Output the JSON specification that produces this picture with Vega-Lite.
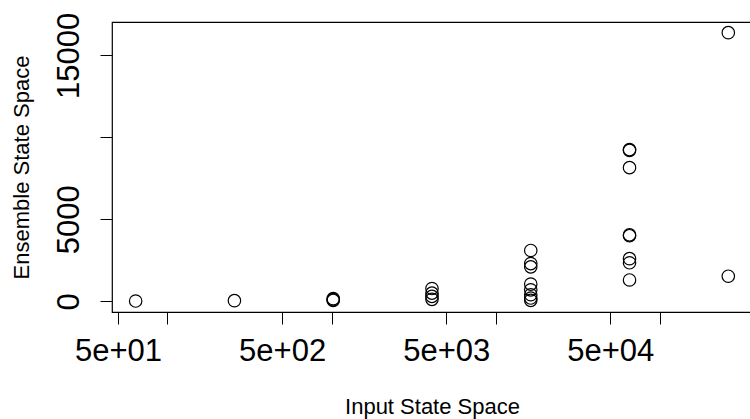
{
  "$schema": "https://vega.github.io/schema/vega-lite/v6.json",
  "width": 640,
  "height": 290,
  "autosize": {"type": "none"},
  "padding": {"left": 112, "top": 22, "right": 0, "bottom": 107},
  "background": "white",
  "config": {
    "view": {"stroke": "black", "strokeWidth": 1.2},
    "font": "Liberation Sans",
    "axis": {
      "grid": false,
      "domain": false,
      "tickColor": "black",
      "tickWidth": 1,
      "tickSize": 12,
      "labelColor": "black",
      "titleColor": "black",
      "labelFont": "Liberation Sans",
      "titleFont": "Liberation Sans",
      "labelFontSize": 31,
      "titleFontSize": 22,
      "titleFontWeight": "normal"
    }
  },
  "data": {
    "values": [
      {"input": 64, "ensemble": 16},
      {"input": 256, "ensemble": 40},
      {"input": 1024, "ensemble": 50},
      {"input": 1024, "ensemble": 100},
      {"input": 1024, "ensemble": 160},
      {"input": 4096, "ensemble": 120},
      {"input": 4096, "ensemble": 300},
      {"input": 4096, "ensemble": 500},
      {"input": 4096, "ensemble": 780},
      {"input": 16384, "ensemble": 60},
      {"input": 16384, "ensemble": 200},
      {"input": 16384, "ensemble": 400},
      {"input": 16384, "ensemble": 700},
      {"input": 16384, "ensemble": 1050},
      {"input": 16384, "ensemble": 2100},
      {"input": 16384, "ensemble": 2300},
      {"input": 16384, "ensemble": 3100},
      {"input": 65536, "ensemble": 1300},
      {"input": 65536, "ensemble": 2350},
      {"input": 65536, "ensemble": 2600},
      {"input": 65536, "ensemble": 4000},
      {"input": 65536, "ensemble": 4050},
      {"input": 65536, "ensemble": 8150},
      {"input": 65536, "ensemble": 9200},
      {"input": 65536, "ensemble": 9250},
      {"input": 262144, "ensemble": 1530},
      {"input": 262144, "ensemble": 16380}
    ]
  },
  "mark": {"type": "point", "shape": "circle", "filled": false, "stroke": "black", "strokeWidth": 1.2, "size": 155, "opacity": 1, "clip": false},
  "encoding": {
    "x": {
      "field": "input",
      "type": "quantitative",
      "title": "Input State Space",
      "scale": {"type": "log", "domain": [45.92, 365600], "nice": false},
      "axis": {
        "values": [50, 100, 500, 1000, 5000, 10000, 50000, 100000],
        "labelExpr": "datum.value == 50 ? '5e+01' : datum.value == 500 ? '5e+02' : datum.value == 5000 ? '5e+03' : datum.value == 50000 ? '5e+04' : ''",
        "labelPadding": 12,
        "labelFlush": false,
        "labelOverlap": false,
        "titlePadding": 30
      }
    },
    "y": {
      "field": "ensemble",
      "type": "quantitative",
      "title": "Ensemble State Space",
      "scale": {"domain": [-652, 17030], "nice": false, "zero": false},
      "axis": {
        "values": [0, 5000, 10000, 15000],
        "labelExpr": "datum.value == 10000 ? '' : format(datum.value, 'd')",
        "labelAngle": -90,
        "labelAlign": "center",
        "labelBaseline": "bottom",
        "labelPadding": 15,
        "labelOverlap": false,
        "labelFlush": false,
        "titlePadding": 20
      }
    }
  }
}
